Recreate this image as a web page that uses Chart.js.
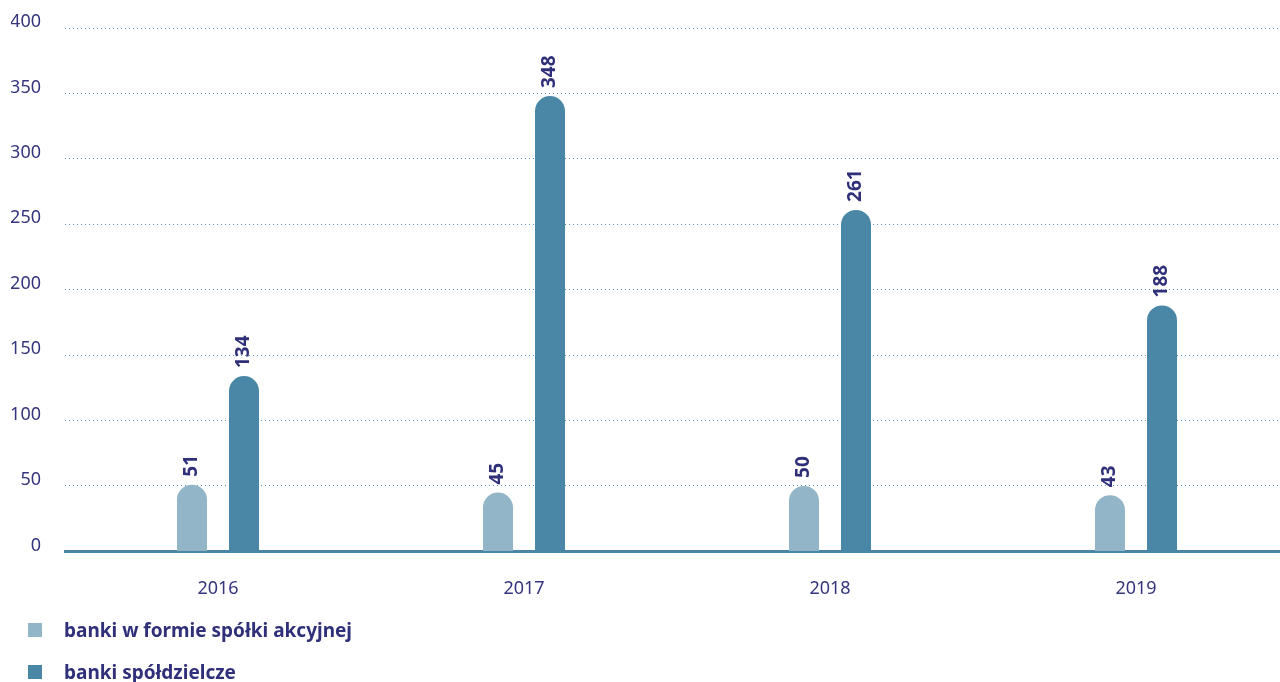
<!DOCTYPE html>
<html>
<head>
<meta charset="utf-8">
<script src="https://cdn.jsdelivr.net/npm/chart.js@4.4.0/dist/chart.umd.min.js"></script>
<style>
  body { margin: 0; background: #fff; font-family: "Noto Sans", "Open Sans", sans-serif; overflow: hidden; }
  #wrap { position: relative; width: 1289px; height: 637px; }
  #legend { position: absolute; left: 28px; top: 609px; }
  .item { display: flex; align-items: center; height: 42px; }
  .box { width: 14px; height: 14px; margin-right: 22px; }
  .txt { color: #2f2f7a; font-weight: bold; font-size: 19px; }
</style>
</head>
<body>
<div id="wrap"><canvas id="myChart"></canvas></div>
<div id="legend"></div>
<script>
const lata = ['2016', '2017', '2018', '2019'];
const bankiAkcyjne = [51, 45, 50, 43];
const bankiSpoldzielcze = [134, 348, 261, 188];
const nazwySerii = ['banki w formie spółki akcyjnej', 'banki spółdzielcze'];
const kolory = ['#92b5c8', '#4a87a6'];
const czcionka = '"Noto Sans", "Open Sans", sans-serif';

// Etykiety wartości, obrócone pionowo nad słupkami
const etykietyPlugin = {
    id: 'etykiety',
    afterDatasetsDraw(chart) {
        const ctx = chart.ctx;
        ctx.save();
        ctx.fillStyle = '#2f2f7a';
        ctx.font = 'bold 19px ' + czcionka;
        ctx.textAlign = 'left';
        ctx.textBaseline = 'middle';
        chart.data.datasets.forEach(function(ds, i) {
            chart.getDatasetMeta(i).data.forEach(function(bar, j) {
                ctx.save();
                ctx.translate(bar.x, bar.y - 8);
                ctx.rotate(-Math.PI / 2);
                ctx.fillText(ds.data[j], 0, 0);
                ctx.restore();
            });
        });
        ctx.restore();
    }
};

const config = {
    type: 'bar',
    data: {
        labels: lata,
        datasets: [{
                label: nazwySerii[0],
                data: bankiAkcyjne,
                backgroundColor: kolory[0],
                borderRadius: { topLeft: 15, topRight: 15 },
                borderSkipped: 'bottom'
            },
            {
                label: nazwySerii[1],
                data: bankiSpoldzielcze,
                backgroundColor: kolory[1],
                borderRadius: { topLeft: 15, topRight: 15 },
                borderSkipped: 'bottom'
            }
        ]
    },
    options: {
        responsive: true,
        maintainAspectRatio: false,
        animation: false,
        categoryPercentage: 0.34,
        barPercentage: 0.577,
        layout: { padding: { left: 11, top: 28, right: 0, bottom: 10 } },
        scales: {
            y: {
                min: 0,
                max: 400,
                afterFit: function(scale) {
                    scale.width = 54;
                    scale.paddingTop = 0;
                    scale.paddingBottom = 0;
                },
                ticks: {
                    stepSize: 50,
                    padding: 24,
                    labelOffset: -6,
                    color: '#35357d',
                    font: { size: 18, family: czcionka }
                },
                grid: { color: '#5a93b0', drawTicks: false, lineWidth: 1 },
                border: { display: false, dash: [1, 3] }
            },
            x: {
                ticks: {
                    padding: 27,
                    color: '#35357d',
                    font: { size: 18, family: czcionka }
                },
                grid: { display: false, drawTicks: false },
                border: { display: true, color: '#4a87a6', width: 3 }
            }
        },
        plugins: {
            legend: { display: false },
            tooltip: { enabled: false }
        }
    },
    plugins: [etykietyPlugin]
};

const wykres = new Chart(document.getElementById('myChart'), config);

// Legenda w HTML
const legenda = document.getElementById('legend');
nazwySerii.forEach(function(nazwa, i) {
    const el = document.createElement('div');
    el.className = 'item';
    el.innerHTML = '<div class="box" style="background:' + kolory[i] + '"></div><div class="txt">' + nazwa + '</div>';
    legenda.appendChild(el);
});
</script>
</body>
</html>
